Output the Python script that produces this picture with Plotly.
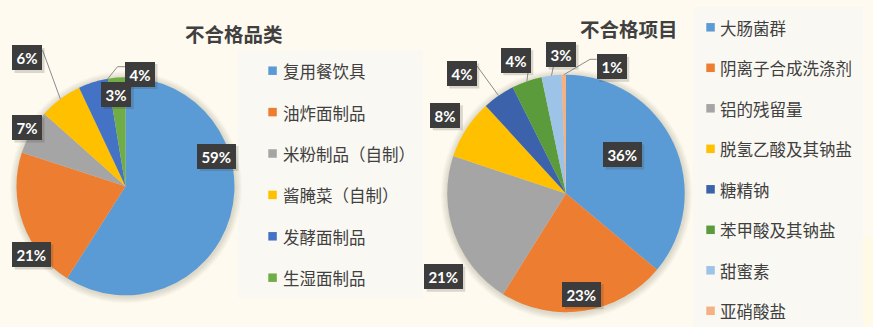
import plotly.graph_objects as go
import math

W, H = 873, 327

# ---------------- data ----------------
left_title = "不合格品类"
left_categories = ["复用餐饮具", "油炸面制品", "米粉制品（自制）", "酱腌菜（自制）", "发酵面制品", "生湿面制品"]
left_values = [59.0, 21.0, 6.6, 6.4, 4.4, 2.6]

right_title = "不合格项目"
right_categories = ["大肠菌群", "阴离子合成洗涤剂", "铝的残留量", "脱氢乙酸及其钠盐",
                    "糖精钠", "苯甲酸及其钠盐", "甜蜜素", "亚硝酸盐"]
right_values = [36.1, 22.8, 21.2, 8.1, 4.4, 4.1, 2.7, 0.6]

# ---------------- style ----------------
left_colors = ["#5B9BD5", "#ED7D31", "#A5A5A5", "#FFC000", "#4472C4", "#70AD47"]
right_colors = ["#5B9BD5", "#ED7D31", "#A5A5A5", "#FFC000", "#3D62AC", "#5B9B3B", "#9DC3E6", "#F4B183"]

BG = "#FEFAEF"
LEG_BG = "#FAF8F2"
TXT = "#404040"
CJK = "Noto Sans CJK SC"

# leader spec: (points from the label box, anchor on slice edge: 'mid' or 'end')
charts = [
    dict(title=left_title, cats=left_categories, vals=left_values, colors=left_colors,
         cx=125.5, cy=186.3, r=109.0,
         title_xy=(234, 33),
         legend_box=(238, 50, 423, 298), leg_sq_x=268.3, leg_txt_x=281, leg_y0=70.7, leg_dy=41.4,
         label_xy=[(216.7, 156), (31.5, 254.5), (27, 127.5), (27, 58), (140, 74), (116.3, 94)],
         leaders={3: ([(42.5, 50)], "mid"), 4: ([(125.3, 66.7), (117.5, 66.7)], "end")}),
    dict(title=right_title, cats=right_categories, vals=right_values, colors=right_colors,
         cx=566.0, cy=193.5, r=118.75,
         title_xy=(629, 28.5),
         legend_box=(693, 7, 863, 327), leg_sq_x=706.3, leg_txt_x=718.3, leg_y0=27.3, leg_dy=40.5,
         label_xy=[(622.5, 154.5), (581.8, 294.3), (443.5, 276.7), (445.3, 115.3),
                   (461.7, 73.5), (515.8, 60.2), (561, 54.7), (611.7, 66.8)],
         leaders={4: ([(477, 66)], "mid"), 5: ([(528, 72.7)], "mid"), 6: ([(553.3, 67)], "mid"),
                  7: ([(596.7, 59.3), (590, 59.3)], "mid")}),
]


def px(x):
    return x / W


def py(y):
    return 1 - y / H


fig = go.Figure()
shapes = []
annotations = []

# lighter strip bottom right
shapes.append(dict(type="rect", xref="paper", yref="paper", x0=px(863), x1=1, y0=0, y1=py(237),
                   fillcolor="#FFFAE6", line_width=0, layer="below"))

for ch in charts:
    cx, cy, r = ch["cx"], ch["cy"], ch["r"]
    total = sum(ch["vals"])

    # legend background box
    lx0, ly0, lx1, ly1 = ch["legend_box"]
    shapes.append(dict(type="rect", xref="paper", yref="paper", x0=px(lx0), x1=px(lx1),
                       y0=py(ly1), y1=py(ly0), fillcolor=LEG_BG, line_width=0, layer="below"))

    # soft pie shadow
    for k in range(1, 8):
        rr = r + k
        shapes.append(dict(type="circle", xref="paper", yref="paper",
                           xsizemode="pixel", ysizemode="pixel",
                           xanchor=px(cx + 0.5), yanchor=py(cy + 1),
                           x0=-rr, x1=rr, y0=-rr, y1=rr,
                           fillcolor="rgba(120,110,90,0.035)", line_width=0, layer="below"))

    fig.add_trace(go.Pie(
        labels=ch["cats"], values=ch["vals"], sort=False, direction="clockwise", rotation=0,
        marker=dict(colors=ch["colors"], line=dict(width=0)),
        textinfo="none", showlegend=False, hole=0,
        domain=dict(x=[px(cx - r), px(cx + r)], y=[py(cy + r), py(cy - r)]),
    ))

    # title
    annotations.append(dict(text="<b>%s</b>" % ch["title"], x=px(ch["title_xy"][0]), y=py(ch["title_xy"][1]),
                            xref="paper", yref="paper", showarrow=False, xanchor="center", yanchor="middle",
                            font=dict(family=CJK, size=19.5, color=TXT)))

    # legend entries
    for i, (cat, col) in enumerate(zip(ch["cats"], ch["colors"])):
        yc = ch["leg_y0"] + i * ch["leg_dy"]
        sq = 8.5
        shapes.append(dict(type="rect", xref="paper", yref="paper",
                           x0=px(ch["leg_sq_x"]), x1=px(ch["leg_sq_x"] + sq),
                           y0=py(yc + sq / 2), y1=py(yc - sq / 2), fillcolor=col, line_width=0))
        annotations.append(dict(text=cat, x=px(ch["leg_txt_x"]), y=py(yc + 0.5), xref="paper", yref="paper",
                                showarrow=False, xanchor="left", yanchor="middle",
                                font=dict(family=CJK, size=16.5, color=TXT)))

    # slice angles (clockwise from 12 o'clock)
    cum = 0.0
    mids, ends = [], []
    for v in ch["vals"]:
        mids.append((cum + v / 2) / total * 360.0)
        cum += v
        ends.append(cum / total * 360.0)

    # leader lines
    for idx, (pts, anchor) in ch["leaders"].items():
        a = math.radians(mids[idx] if anchor == "mid" else ends[idx])
        ex, ey = cx + r * math.sin(a), cy - r * math.cos(a)
        allp = pts + [(ex, ey)]
        path = "M " + " L ".join("%f,%f" % (px(x), py(y)) for x, y in allp)
        shapes.append(dict(type="path", xref="paper", yref="paper", path=path,
                           line=dict(color="#8C8C8C", width=1), layer="above"))

    # data labels (dark boxes)
    for i, v in enumerate(ch["vals"]):
        txt = "%d%%" % round(v / total * 100)
        bw = 38.5 if len(txt) > 2 else 30
        bh = 25
        lx, ly = ch["label_xy"][i]
        # box shadow
        shapes.append(dict(type="rect", xref="paper", yref="paper",
                           x0=px(lx - bw / 2 + 2.5), x1=px(lx + bw / 2 + 2.5),
                           y0=py(ly + bh / 2 + 2.5), y1=py(ly - bh / 2 + 2.5),
                           fillcolor="rgba(60,50,40,0.18)", line_width=0, layer="above"))
        annotations.append(dict(text="<b>%s</b>" % txt, x=px(lx), y=py(ly), xref="paper", yref="paper",
                                showarrow=False, xanchor="center", yanchor="middle",
                                width=bw, height=bh, borderpad=0, borderwidth=0,
                                bgcolor="#3C3C3C", align="center", valign="middle",
                                font=dict(family="Lato", size=15, color="white")))

fig.update_layout(
    width=W, height=H, autosize=False,
    margin=dict(l=0, r=0, t=0, b=0),
    paper_bgcolor=BG, plot_bgcolor=BG,
    shapes=shapes, annotations=annotations,
)

fig.write_html("out.html")
